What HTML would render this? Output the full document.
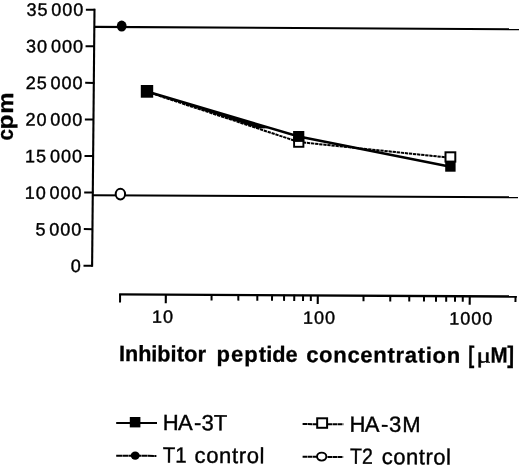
<!DOCTYPE html>
<html lang="en"><head><meta charset="utf-8"><title>Inhibitor peptide concentration chart</title>
<style>html,body{margin:0;padding:0;background:#fff}svg{display:block}</style></head>
<body>
<svg width="520" height="468" viewBox="0 0 520 468" role="img" aria-label="cpm versus inhibitor peptide concentration">
<rect width="520" height="468" fill="#fff"/>
<line x1="94.50" y1="8.80" x2="92.10" y2="266.80" stroke="#000" stroke-width="2.1" />
<line x1="85.90" y1="9.76" x2="95.00" y2="9.80" stroke="#000" stroke-width="2.0" />
<line x1="85.56" y1="46.32" x2="94.66" y2="46.36" stroke="#000" stroke-width="2.0" />
<line x1="85.21" y1="82.87" x2="94.31" y2="82.91" stroke="#000" stroke-width="2.0" />
<line x1="84.87" y1="119.43" x2="93.97" y2="119.47" stroke="#000" stroke-width="2.0" />
<line x1="84.53" y1="155.99" x2="93.63" y2="156.03" stroke="#000" stroke-width="2.0" />
<line x1="84.19" y1="192.55" x2="93.29" y2="192.59" stroke="#000" stroke-width="2.0" />
<line x1="83.84" y1="229.10" x2="92.94" y2="229.14" stroke="#000" stroke-width="2.0" />
<line x1="83.50" y1="265.66" x2="92.60" y2="265.70" stroke="#000" stroke-width="2.0" />
<line x1="94.00" y1="26.90" x2="519.00" y2="29.30" stroke="#000" stroke-width="2.1" />
<line x1="93.00" y1="195.20" x2="518.00" y2="197.30" stroke="#000" stroke-width="2.1" />
<line x1="119.10" y1="294.40" x2="516.80" y2="296.50" stroke="#000" stroke-width="2.4" />
<line x1="120.10" y1="293.91" x2="120.03" y2="302.61" stroke="#000" stroke-width="2.0" />
<line x1="165.84" y1="294.15" x2="165.77" y2="303.25" stroke="#000" stroke-width="2.1" />
<line x1="211.59" y1="294.39" x2="211.54" y2="300.49" stroke="#000" stroke-width="2.0" />
<line x1="238.35" y1="294.53" x2="238.30" y2="300.63" stroke="#000" stroke-width="2.0" />
<line x1="257.33" y1="294.63" x2="257.29" y2="300.73" stroke="#000" stroke-width="2.0" />
<line x1="272.06" y1="294.71" x2="272.01" y2="300.81" stroke="#000" stroke-width="2.0" />
<line x1="284.09" y1="294.77" x2="284.04" y2="300.87" stroke="#000" stroke-width="2.0" />
<line x1="294.26" y1="294.82" x2="294.22" y2="300.92" stroke="#000" stroke-width="2.0" />
<line x1="303.07" y1="294.87" x2="303.03" y2="300.97" stroke="#000" stroke-width="2.0" />
<line x1="310.85" y1="294.91" x2="310.80" y2="301.01" stroke="#000" stroke-width="2.0" />
<line x1="317.80" y1="294.95" x2="317.73" y2="304.05" stroke="#000" stroke-width="2.1" />
<line x1="363.54" y1="295.19" x2="363.50" y2="301.29" stroke="#000" stroke-width="2.0" />
<line x1="390.30" y1="295.33" x2="390.26" y2="301.43" stroke="#000" stroke-width="2.0" />
<line x1="409.29" y1="295.43" x2="409.24" y2="301.53" stroke="#000" stroke-width="2.0" />
<line x1="424.01" y1="295.51" x2="423.97" y2="301.61" stroke="#000" stroke-width="2.0" />
<line x1="436.05" y1="295.57" x2="436.00" y2="301.67" stroke="#000" stroke-width="2.0" />
<line x1="446.22" y1="295.63" x2="446.17" y2="301.73" stroke="#000" stroke-width="2.0" />
<line x1="455.03" y1="295.67" x2="454.99" y2="301.77" stroke="#000" stroke-width="2.0" />
<line x1="462.80" y1="295.71" x2="462.76" y2="301.81" stroke="#000" stroke-width="2.0" />
<line x1="469.76" y1="295.75" x2="469.69" y2="304.85" stroke="#000" stroke-width="2.1" />
<line x1="515.50" y1="295.99" x2="515.46" y2="302.09" stroke="#000" stroke-width="2.0" />
<polyline points="147,91.8 298.7,142.0 450.5,157.8" fill="none" stroke="#000" stroke-width="2.0" stroke-dasharray="3.3 0.8"/>
<polyline points="147,91.5 298.7,136.5 450.5,166.7" fill="none" stroke="#000" stroke-width="2.4"/>
<polygon points="147,91.5 258,124.43 268,128.29 258,128.53 147,91.8" fill="#000"/>
<rect x="140.8" y="85" width="12.4" height="12.7" fill="#000"/>
<rect x="294.1" y="137.6" width="9.3" height="9.2" fill="#fff" stroke="#000" stroke-width="1.9"/>
<rect x="293.1" y="131" width="11.2" height="10.9" fill="#000"/>
<rect x="445.2" y="160.5" width="10.4" height="11.2" fill="#000"/>
<rect x="445.5" y="152.3" width="9.8" height="9.3" fill="#fff" stroke="#000" stroke-width="2"/>
<ellipse cx="121.7" cy="26.1" rx="4.9" ry="5.5" fill="#000"/>
<ellipse cx="120.4" cy="194.1" rx="4.7" ry="5.3" fill="#fff" stroke="#000" stroke-width="2"/>
<line x1="116.20" y1="422.90" x2="157.00" y2="423.10" stroke="#000" stroke-width="2.0" />
<rect x="129.8" y="417" width="10.6" height="10.4" fill="#000"/>
<line x1="116.20" y1="455.70" x2="156.40" y2="455.90" stroke="#000" stroke-width="2.0" stroke-dasharray="6 0.35"/>
<ellipse cx="135.2" cy="455.6" rx="4.5" ry="4.1" fill="#000"/>
<line x1="302.60" y1="424.10" x2="343.40" y2="424.30" stroke="#000" stroke-width="2.0" stroke-dasharray="4.6 0.45"/>
<rect x="317.2" y="418.3" width="9.9" height="9.5" fill="#fff" stroke="#000" stroke-width="2"/>
<line x1="302.60" y1="456.80" x2="343.20" y2="457.00" stroke="#000" stroke-width="2.0" stroke-dasharray="4.6 0.45"/>
<ellipse cx="321.7" cy="456.6" rx="4.65" ry="4.0" fill="#fff" stroke="#000" stroke-width="1.9"/>
<text transform="translate(26.47,15.70) rotate(0.3)" font-family='"Liberation Sans", Arial, sans-serif' font-size="18.0" font-weight="normal" fill="#000" stroke="#000" stroke-width="0.4"><tspan x="0.00" y="0.00" letter-spacing="0.98">35</tspan> <tspan x="24.82" y="-0.13" letter-spacing="0.98">000</tspan></text>
<text transform="translate(26.12,52.33) rotate(0.3)" font-family='"Liberation Sans", Arial, sans-serif' font-size="18.0" font-weight="normal" fill="#000" stroke="#000" stroke-width="0.4"><tspan x="0.00" y="0.00" letter-spacing="0.98">30</tspan> <tspan x="24.82" y="-0.13" letter-spacing="0.98">000</tspan></text>
<text transform="translate(25.78,88.95) rotate(0.3)" font-family='"Liberation Sans", Arial, sans-serif' font-size="18.0" font-weight="normal" fill="#000" stroke="#000" stroke-width="0.4"><tspan x="0.00" y="0.00" letter-spacing="0.98">25</tspan> <tspan x="24.82" y="-0.13" letter-spacing="0.98">000</tspan></text>
<text transform="translate(25.44,125.58) rotate(0.3)" font-family='"Liberation Sans", Arial, sans-serif' font-size="18.0" font-weight="normal" fill="#000" stroke="#000" stroke-width="0.4"><tspan x="0.00" y="0.00" letter-spacing="0.98">20</tspan> <tspan x="24.82" y="-0.13" letter-spacing="0.98">000</tspan></text>
<text transform="translate(25.09,162.21) rotate(0.3)" font-family='"Liberation Sans", Arial, sans-serif' font-size="18.0" font-weight="normal" fill="#000" stroke="#000" stroke-width="0.4"><tspan x="0.00" y="0.00" letter-spacing="0.98">15</tspan> <tspan x="24.82" y="-0.13" letter-spacing="0.98">000</tspan></text>
<text transform="translate(24.75,198.84) rotate(0.3)" font-family='"Liberation Sans", Arial, sans-serif' font-size="18.0" font-weight="normal" fill="#000" stroke="#000" stroke-width="0.4"><tspan x="0.00" y="0.00" letter-spacing="0.98">10</tspan> <tspan x="24.82" y="-0.13" letter-spacing="0.98">000</tspan></text>
<text transform="translate(35.39,235.46) rotate(0.3)" font-family='"Liberation Sans", Arial, sans-serif' font-size="18.0" font-weight="normal" fill="#000" stroke="#000" stroke-width="0.4"><tspan x="0.00" y="0.00" letter-spacing="0.98">5</tspan> <tspan x="13.83" y="-0.07" letter-spacing="0.98">000</tspan></text>
<text transform="translate(70.85,272.09) rotate(0.3)" x="0" y="0" font-family='"Liberation Sans", Arial, sans-serif' font-size="18.0" font-weight="normal" fill="#000" stroke="#000" stroke-width="0.4" letter-spacing="0.98">0</text>
<text transform="translate(151.97,322.80) rotate(0.3)" x="0" y="0" font-family='"Liberation Sans", Arial, sans-serif' font-size="18.0" font-weight="normal" fill="#000" stroke="#000" stroke-width="0.4" letter-spacing="0.98">10</text>
<text transform="translate(303.08,323.70) rotate(0.3)" x="0" y="0" font-family='"Liberation Sans", Arial, sans-serif' font-size="18.0" font-weight="normal" fill="#000" stroke="#000" stroke-width="0.4" letter-spacing="0.98">100</text>
<text transform="translate(449.34,324.50) rotate(0.3)" x="0" y="0" font-family='"Liberation Sans", Arial, sans-serif' font-size="18.0" font-weight="normal" fill="#000" stroke="#000" stroke-width="0.4" letter-spacing="0.99">1000</text>
<text transform="translate(119.03,361.00) rotate(0.3)" font-family='"Liberation Sans", Arial, sans-serif' font-size="22" font-weight="bold" fill="#000" stroke="#000" stroke-width="0.3"><tspan x="0.00" y="0.00" textLength="57.45" lengthAdjust="spacingAndGlyphs">Inhibi</tspan><tspan x="57.62" y="-0.00" letter-spacing="0.08">tor</tspan> <tspan x="97.47" y="-0.01" letter-spacing="1.02">pept</tspan><tspan x="147.20" y="-0.07" textLength="31.26" lengthAdjust="spacingAndGlyphs">ide</tspan> <tspan x="187.12" y="0.02" letter-spacing="0.71">concentration</tspan> <tspan x="349.33" y="0.07" font-size="24" textLength="6.03" lengthAdjust="spacingAndGlyphs">[</tspan><tspan x="357.43" y="-0.47" font-family='"Liberation Serif", serif' font-weight="normal" stroke-width="0.4" textLength="14.41" lengthAdjust="spacingAndGlyphs">μ</tspan><tspan x="371.47" y="-0.55" textLength="17.07" lengthAdjust="spacingAndGlyphs">M</tspan><tspan x="388.16" y="-0.03" font-size="24" textLength="6.77" lengthAdjust="spacingAndGlyphs">]</tspan></text>
<text transform="translate(12.70,139.70) rotate(-89.6)" font-family='"Liberation Sans", Arial, sans-serif' font-size="22" font-weight="bold" fill="#000" stroke="#000" stroke-width="0.3"><tspan x="-0.70" y="0" textLength="11.40" lengthAdjust="spacingAndGlyphs">c</tspan><tspan x="10.24" y="0" textLength="14.92" lengthAdjust="spacingAndGlyphs">p</tspan><tspan x="26.07" y="0" textLength="21.26" lengthAdjust="spacingAndGlyphs">m</tspan></text>
<text transform="translate(162.75,430.00) rotate(0.3)" font-family='"Liberation Sans", Arial, sans-serif' font-size="22" font-weight="normal" fill="#000" stroke="#000" stroke-width="0.4"><tspan x="0.00" y="0.00" letter-spacing="-0.55">HA</tspan><tspan x="31.35" y="-0.06" letter-spacing="0.05">-3T</tspan></text>
<text transform="translate(162.84,462.50) rotate(0.3)" font-family='"Liberation Sans", Arial, sans-serif' font-size="22" font-weight="normal" fill="#000" stroke="#000" stroke-width="0.4"><tspan x="0.00" y="0.00" textLength="23.89" lengthAdjust="spacingAndGlyphs">T1</tspan> <tspan x="31.67" y="0.13" letter-spacing="0.65">control</tspan></text>
<text transform="translate(349.45,431.70) rotate(0.3)" font-family='"Liberation Sans", Arial, sans-serif' font-size="22" font-weight="normal" fill="#000" stroke="#000" stroke-width="0.4"><tspan x="0.00" y="0.00" letter-spacing="-0.55">HA</tspan><tspan x="31.45" y="-0.06" letter-spacing="0.90">-3M</tspan></text>
<text transform="translate(350.06,463.80) rotate(0.3)" font-family='"Liberation Sans", Arial, sans-serif' font-size="22" font-weight="normal" fill="#000" stroke="#000" stroke-width="0.4"><tspan x="0.00" y="0.00" textLength="22.69" lengthAdjust="spacingAndGlyphs">T2</tspan> <tspan x="31.74" y="0.13" letter-spacing="0.50">control</tspan></text>
</svg>
</body></html>
